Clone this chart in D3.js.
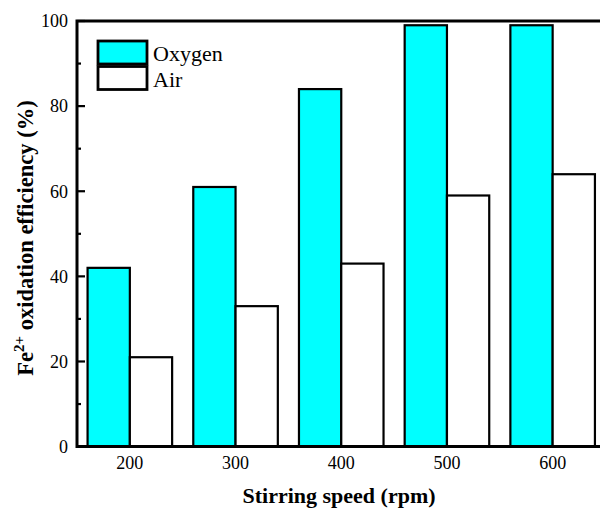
<!DOCTYPE html>
<html>
<head>
<meta charset="utf-8">
<script src="https://cdn.jsdelivr.net/npm/d3@7"></script>
</head>
<body style="margin:0; background:#fff">
<div id="chart"></div>
<script>
// data
const speeds = ["200", "300", "400", "500", "600"];
const oxygen = [42, 61, 84, 99, 99];
const air = [21, 33, 43, 59, 64];
const seriesNames = ["Oxygen", "Air"];
const seriesColors = ["#00ffff", "#ffffff"];
const yTicks = [0, 20, 40, 60, 80, 100];
const yMinorTicks = [10, 30, 50, 70, 90];

const width = 600, height = 509;
const plotLeft = 77, plotTop = 21, plotBottom = 446.6, plotRight = 605.5;
const serif = "'Liberation Serif', 'Times New Roman', serif";

const svg = d3.select("#chart")
  .append("svg")
  .attr("width", width)
  .attr("height", height)
  .style("font-family", serif);

// scales
let x = d3.scaleBand()
  .domain(speeds)
  .range([plotLeft, plotRight])
  .paddingInner(0.2)
  .paddingOuter(0.1);

let xSub = d3.scaleBand()
  .domain(seriesNames)
  .range([0, x.bandwidth()]);

let y = d3.scaleLinear()
  .domain([0, 100])
  .range([plotBottom, plotTop]);

// bars
const rows = speeds.map((s, i) => ({speed: s, values: [oxygen[i], air[i]]}));

svg.append("g")
  .selectAll("g")
  .data(rows)
  .enter()
  .append("g")
  .attr("transform", d => "translate(" + x(d.speed) + ",0)")
  .selectAll("rect")
  .data(d => d.values.map((v, k) => ({name: seriesNames[k], v: v, k: k})))
  .enter()
  .append("rect")
  .attr("x", d => xSub(d.name))
  .attr("y", d => y(d.v))
  .attr("width", xSub.bandwidth())
  .attr("height", d => y(0) - y(d.v))
  .style("fill", d => seriesColors[d.k])
  .style("stroke", "#000")
  .style("stroke-width", 2.2);

// y axis labels
const yAxis = svg.append("g")
  .attr("transform", "translate(" + plotLeft + ",0)")
  .call(d3.axisLeft(y).tickValues(yTicks).tickSize(0).tickPadding(9));
yAxis.attr("font-family", null);
yAxis.select(".domain").remove();
yAxis.selectAll("text")
  .style("font-family", serif)
  .style("font-size", "18px")
  .attr("fill", "#000");

// inward ticks
svg.append("g")
  .selectAll("line")
  .data(yTicks)
  .enter()
  .append("line")
  .attr("x1", plotLeft)
  .attr("x2", plotLeft + 8)
  .attr("y1", d => y(d))
  .attr("y2", d => y(d))
  .style("stroke", "#000")
  .style("stroke-width", 2.2);

svg.append("g")
  .selectAll("line")
  .data(yMinorTicks)
  .enter()
  .append("line")
  .attr("x1", plotLeft)
  .attr("x2", plotLeft + 4)
  .attr("y1", d => y(d))
  .attr("y2", d => y(d))
  .style("stroke", "#000")
  .style("stroke-width", 2.2);

// x axis labels
const xAxis = svg.append("g")
  .attr("transform", "translate(0," + plotBottom + ")")
  .call(d3.axisBottom(x).tickSize(0).tickPadding(10));
xAxis.attr("font-family", null);
xAxis.select(".domain").remove();
xAxis.selectAll("text")
  .style("font-family", serif)
  .style("font-size", "18px")
  .attr("fill", "#000");

// frame
svg.append("path")
  .attr("d", "M" + plotLeft + "," + plotTop + "H" + plotRight + "M" + plotLeft + "," + plotBottom + "H" + plotRight
    + "M" + plotLeft + "," + (plotTop - 1.5) + "V" + (plotBottom + 1.5))
  .style("fill", "none")
  .style("stroke", "#000")
  .style("stroke-width", 3);

// axis titles
svg.append("text")
  .attr("x", 339)
  .attr("y", 503)
  .attr("text-anchor", "middle")
  .style("font-family", serif)
  .style("font-size", "22px")
  .style("font-weight", "bold")
  .text("Stirring speed (rpm)");

const yt = svg.append("text")
  .attr("transform", "translate(33," + 238 + ") rotate(-90)")
  .attr("text-anchor", "middle")
  .style("font-family", serif)
  .style("font-size", "22.5px")
  .style("font-weight", "bold");
yt.append("tspan").text("Fe");
yt.append("tspan").attr("dy", -9).style("font-size", "15px").text("2+");
yt.append("tspan").attr("dy", 9).text(" oxidation efficiency (%)");

// legend
const legend = svg.append("g");
seriesNames.forEach((name, i) => {
  legend.append("rect")
    .attr("x", 98)
    .attr("y", 41 + i * 25.5)
    .attr("width", 49)
    .attr("height", 23)
    .style("fill", seriesColors[i])
    .style("stroke", "#000")
    .style("stroke-width", 2.8);
  legend.append("text")
    .attr("x", 153)
    .attr("y", 60.5 + i * 26)
    .style("font-family", serif)
    .style("font-size", "22px")
    .text(name);
});
</script>
</body>
</html>
